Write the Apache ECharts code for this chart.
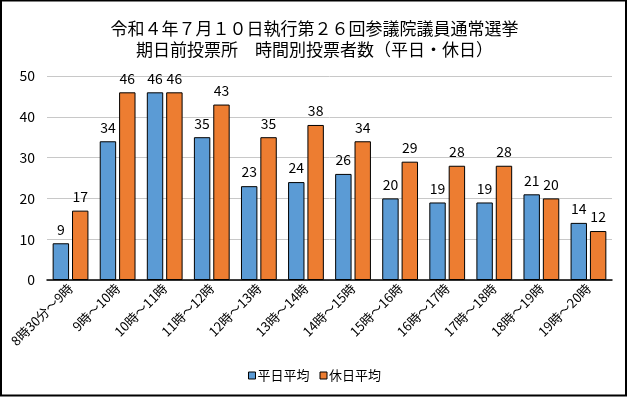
<!DOCTYPE html>
<html>
<head>
<meta charset="utf-8">
<script src="https://cdn.jsdelivr.net/npm/echarts@6/dist/echarts.min.js"></script>
<style>
    html, body { margin: 0; padding: 0; background: #fff; }
    #main { width: 629px; height: 397px; }
</style>
</head>
<body>
<div id="main"></div>
<script>
var categories = ['8時30分～9時', '9時～10時', '10時～11時', '11時～12時', '12時～13時', '13時～14時',
    '14時～15時', '15時～16時', '16時～17時', '17時～18時', '18時～19時', '19時～20時'];
var weekday = [9, 34, 46, 35, 23, 24, 26, 20, 19, 19, 21, 14];
var holiday = [17, 46, 46, 43, 35, 38, 34, 29, 28, 28, 20, 12];
var yTicks = [0, 10, 20, 30, 40, 50];

var font = '"Noto Sans CJK JP", sans-serif';

var myChart = echarts.init(document.getElementById('main'));

function barSeries(name, data, color) {
    return {
        name: name,
        type: 'bar',
        data: data,
        barGap: '18%',
        barCategoryGap: '24%',
        itemStyle: {
            color: color,
            borderColor: '#000',
            borderWidth: 1
        },
        label: {
            show: true,
            position: 'top',
            distance: 7,
            color: '#000',
            fontFamily: font,
            fontSize: 14
        }
    };
}

var option = {
    animation: false,
    textStyle: { fontFamily: font },
    graphic: [{
        type: 'rect',
        shape: { x: 1, y: 0.5, width: 625, height: 395 },
        style: { fill: 'none', stroke: '#000', lineWidth: 2 }
    }],
    title: {
        text: '令和４年７月１０日執行第２６回参議院議員通常選挙\n期日前投票所　時間別投票者数（平日・休日）',
        left: 'center',
        top: 13,
        textStyle: {
            fontFamily: font,
            fontSize: 17,
            fontWeight: 'normal',
            color: '#000',
            lineHeight: 21
        }
    },
    legend: {
        bottom: 10,
        left: 'center',
        itemWidth: 7,
        itemHeight: 7,
        itemGap: 10,
        icon: 'rect',
        itemStyle: { borderColor: '#000', borderWidth: 1 },
        textStyle: { fontFamily: font, fontSize: 13, color: '#000', padding: [0, 0, 0, -3] },
        data: ['平日平均', '休日平均']
    },
    grid: {
        left: 47,
        right: 17,
        top: 76,
        bottom: 117
    },
    xAxis: {
        type: 'category',
        data: categories,
        axisLine: { lineStyle: { color: '#000', width: 1.5 } },
        axisTick: { show: false },
        axisLabel: {
            rotate: 45,
            interval: 0,
            margin: 6,
            fontFamily: font,
            fontSize: 13,
            color: '#000'
        }
    },
    yAxis: {
        type: 'value',
        min: yTicks[0],
        max: yTicks[yTicks.length - 1],
        interval: 10,
        axisLine: { show: false },
        axisTick: { show: false },
        splitLine: { lineStyle: { color: '#c8c8c8' } },
        axisLabel: {
            margin: 12,
            fontFamily: font,
            fontSize: 14,
            color: '#000'
        }
    },
    series: [
        barSeries('平日平均', weekday, '#5b9bd5'),
        barSeries('休日平均', holiday, '#ed7d31')
    ]
};
myChart.setOption(option);
</script>
</body>
</html>
